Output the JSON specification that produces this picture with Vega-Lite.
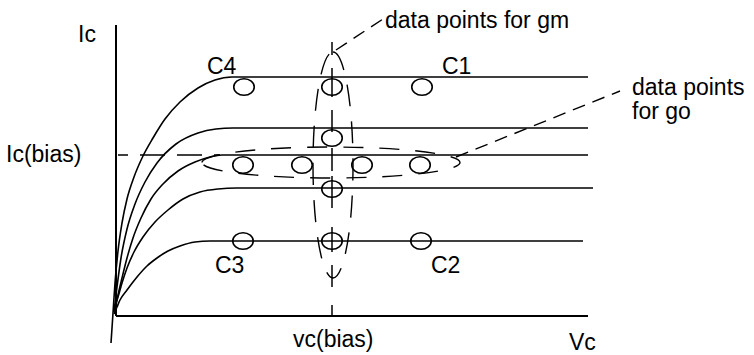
{
  "$schema": "https://vega.github.io/schema/vega-lite/v6.json",
  "width": 754,
  "height": 355,
  "padding": 0,
  "autosize": {"type": "fit", "contains": "padding"},
  "background": "white",
  "config": {"view": {"stroke": null}},
  "datasets": {
    "axes": [
      {"x": 116, "y": 25, "x2": 116, "y2": 316},
      {"x": 116, "y": 316, "x2": 588, "y2": 316}
    ],
    "curves": [
      {"c": "A", "x": 111, "y": 343}, {"c": "A", "x": 113, "y": 313}, {"c": "A", "x": 115, "y": 283}, {"c": "A", "x": 118, "y": 251}, {"c": "A", "x": 122, "y": 223}, {"c": "A", "x": 127, "y": 199}, {"c": "A", "x": 134, "y": 177}, {"c": "A", "x": 143, "y": 156}, {"c": "A", "x": 153, "y": 138}, {"c": "A", "x": 165, "y": 119}, {"c": "A", "x": 180, "y": 102}, {"c": "A", "x": 198, "y": 88}, {"c": "A", "x": 215, "y": 80}, {"c": "A", "x": 232, "y": 77}, {"c": "A", "x": 588, "y": 77},
      {"c": "B", "x": 114, "y": 312}, {"c": "B", "x": 117, "y": 287}, {"c": "B", "x": 121, "y": 258}, {"c": "B", "x": 127, "y": 229}, {"c": "B", "x": 135, "y": 204}, {"c": "B", "x": 145, "y": 182}, {"c": "B", "x": 157, "y": 163}, {"c": "B", "x": 176, "y": 144}, {"c": "B", "x": 198, "y": 133}, {"c": "B", "x": 216, "y": 129}, {"c": "B", "x": 233, "y": 128}, {"c": "B", "x": 588, "y": 128},
      {"c": "C", "x": 115, "y": 310}, {"c": "C", "x": 118, "y": 295}, {"c": "C", "x": 122, "y": 278}, {"c": "C", "x": 127, "y": 258}, {"c": "C", "x": 133, "y": 238}, {"c": "C", "x": 141, "y": 218}, {"c": "C", "x": 151, "y": 199}, {"c": "C", "x": 163, "y": 184}, {"c": "C", "x": 178, "y": 171}, {"c": "C", "x": 195, "y": 162}, {"c": "C", "x": 210, "y": 157}, {"c": "C", "x": 222, "y": 155}, {"c": "C", "x": 588, "y": 155},
      {"c": "D", "x": 115, "y": 306}, {"c": "D", "x": 118, "y": 297}, {"c": "D", "x": 122, "y": 283}, {"c": "D", "x": 127, "y": 268}, {"c": "D", "x": 134, "y": 252}, {"c": "D", "x": 143, "y": 237}, {"c": "D", "x": 155, "y": 222}, {"c": "D", "x": 168, "y": 210}, {"c": "D", "x": 183, "y": 199}, {"c": "D", "x": 200, "y": 192}, {"c": "D", "x": 218, "y": 189}, {"c": "D", "x": 237, "y": 188}, {"c": "D", "x": 593, "y": 188},
      {"c": "E", "x": 114, "y": 314}, {"c": "E", "x": 117, "y": 307}, {"c": "E", "x": 120, "y": 300}, {"c": "E", "x": 127, "y": 290}, {"c": "E", "x": 137, "y": 277}, {"c": "E", "x": 147, "y": 266}, {"c": "E", "x": 157, "y": 258}, {"c": "E", "x": 168, "y": 251}, {"c": "E", "x": 180, "y": 246}, {"c": "E", "x": 195, "y": 242}, {"c": "E", "x": 210, "y": 241}, {"c": "E", "x": 583, "y": 241}
    ],
    "points": [
      {"x": 244, "y": 87}, {"x": 332, "y": 87}, {"x": 422, "y": 87},
      {"x": 332, "y": 138},
      {"x": 243, "y": 165}, {"x": 302, "y": 165}, {"x": 362, "y": 165}, {"x": 420, "y": 165},
      {"x": 332, "y": 189},
      {"x": 243, "y": 241}, {"x": 332, "y": 241}, {"x": 421, "y": 241}
    ],
    "vsegs": [
      {"x": 332, "y": 42, "x2": 332, "y2": 55},
      {"x": 332, "y": 68, "x2": 332, "y2": 97},
      {"x": 332, "y": 110, "x2": 332, "y2": 132},
      {"x": 332, "y": 148, "x2": 332, "y2": 171},
      {"x": 332, "y": 176, "x2": 332, "y2": 208},
      {"x": 332, "y": 227, "x2": 332, "y2": 252},
      {"x": 332, "y": 265, "x2": 332, "y2": 287},
      {"x": 332, "y": 305, "x2": 332, "y2": 316}
    ],
    "ibias": [{"x": 118, "y": 155, "x2": 220, "y2": 155}],
    "leaders": [
      {"x": 336, "y": 50, "x2": 383, "y2": 19},
      {"x": 456, "y": 157, "x2": 620, "y2": 91}
    ],
    "gm": [{"x": 333, "y": 165}],
    "go": [{"x": 331, "y": 162.5}],
    "labels": [
      {"x": 78, "y": 42, "t": "Ic"},
      {"x": 6, "y": 162, "t": "Ic(bias)"},
      {"x": 207, "y": 74, "t": "C4"},
      {"x": 442, "y": 74, "t": "C1"},
      {"x": 215, "y": 273, "t": "C3"},
      {"x": 431, "y": 273, "t": "C2"},
      {"x": 293, "y": 347, "t": "vc(bias)"},
      {"x": 569, "y": 350, "t": "Vc"},
      {"x": 385, "y": 28, "t": "data points for gm"},
      {"x": 632, "y": 95, "t": "data points"},
      {"x": 632, "y": 119, "t": "for go"}
    ]
  },
  "encoding": {
    "x": {"field": "x", "type": "quantitative", "scale": {"domain": [0, 754], "nice": false, "zero": false}, "axis": null},
    "y": {"field": "y", "type": "quantitative", "scale": {"domain": [0, 355], "nice": false, "zero": false, "reverse": true}, "axis": null}
  },
  "layer": [
    {
      "data": {"name": "axes"},
      "mark": {"type": "rule", "color": "black", "strokeWidth": 2},
      "encoding": {"x2": {"field": "x2"}, "y2": {"field": "y2"}}
    },
    {
      "data": {"name": "curves"},
      "mark": {"type": "line", "interpolate": "monotone", "color": "black", "strokeWidth": 1.6},
      "encoding": {"detail": {"field": "c", "type": "nominal"}}
    },
    {
      "data": {"name": "ibias"},
      "mark": {"type": "rule", "color": "black", "strokeWidth": 1.4, "strokeDash": [25, 12], "strokeDashOffset": 15},
      "encoding": {"x2": {"field": "x2"}, "y2": {"field": "y2"}}
    },
    {
      "data": {"name": "leaders"},
      "mark": {"type": "rule", "color": "black", "strokeWidth": 1.4, "strokeDash": [13, 8]},
      "encoding": {"x2": {"field": "x2"}, "y2": {"field": "y2"}}
    },
    {
      "data": {"name": "vsegs"},
      "mark": {"type": "rule", "color": "black", "strokeWidth": 1.5},
      "encoding": {"x2": {"field": "x2"}, "y2": {"field": "y2"}}
    },
    {
      "data": {"name": "points"},
      "mark": {"type": "point", "shape": "M-1,0A1,0.8,0,1,1,1,0A1,0.8,0,1,1,-1,0Z", "size": 420, "filled": false, "color": "black", "strokeWidth": 1.6, "opacity": 1}
    },
    {
      "data": {"name": "gm"},
      "mark": {"type": "point", "shape": "M0,-1A0.177,1,0,1,1,0,1A0.177,1,0,1,1,0,-1Z", "size": 51076, "filled": false, "color": "black", "strokeWidth": 1.4, "strokeDash": [22, 15], "opacity": 1}
    },
    {
      "data": {"name": "go"},
      "mark": {"type": "point", "shape": "M-1,0A1,0.12,0,1,1,1,0A1,0.12,0,1,1,-1,0Z", "size": 66564, "filled": false, "color": "black", "strokeWidth": 1.4, "strokeDash": [20, 16], "opacity": 1}
    },
    {
      "data": {"name": "labels"},
      "mark": {"type": "text", "align": "left", "baseline": "alphabetic", "font": "Liberation Sans", "fontSize": 23, "color": "black"},
      "encoding": {"text": {"field": "t"}}
    }
  ]
}
